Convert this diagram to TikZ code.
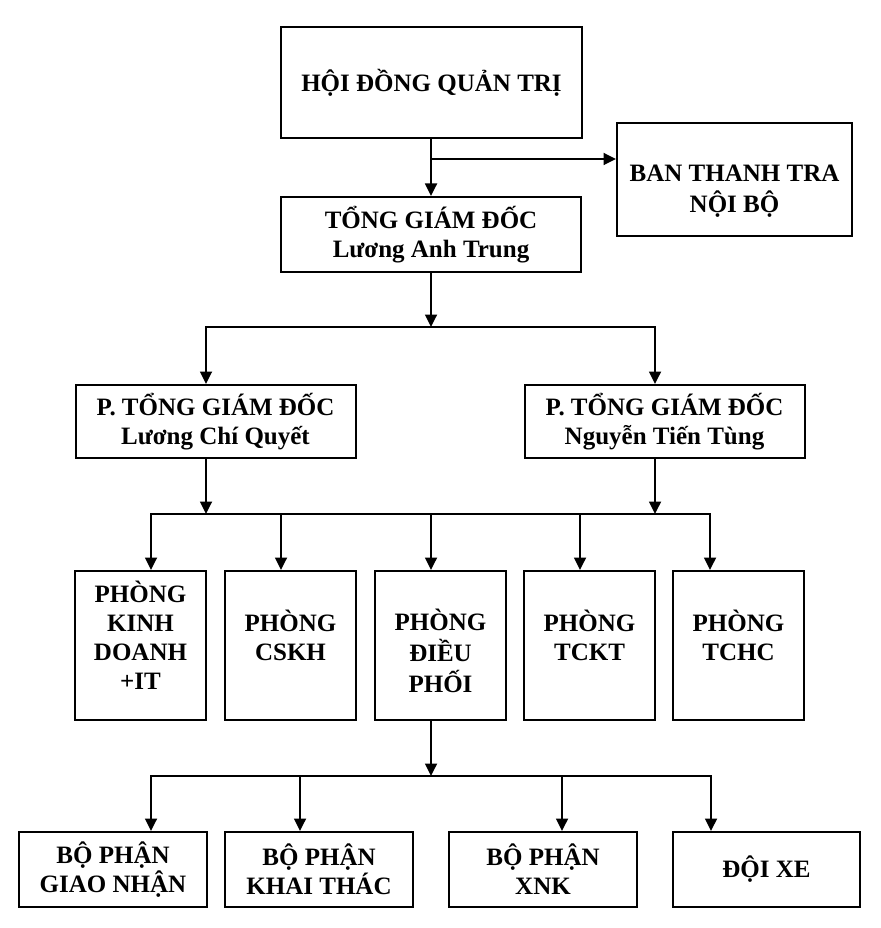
\documentclass[tikz,border=0pt]{standalone}
\usepackage{fontspec}
\setmainfont{Liberation Serif}
\usetikzlibrary{arrows.meta,calc}
\newcommand\mylines[2]{\raisebox{#1}[0pt][0pt]{\begin{tabular}{@{}c@{}}#2\end{tabular}}}
\begin{document}
\begin{tikzpicture}[x=1pt,y=-1pt,
  box/.style={draw, line width=2pt, inner sep=0pt, align=center,
    font=\bfseries\fontsize{25}{29}\selectfont},
  conn/.style={line width=1.8pt, line cap=rect},
  arr/.style={line width=1.8pt, -{Triangle[length=12.5pt,width=12pt]}}]
\useasboundingbox (0,0) rectangle (880,928);
\fill[white] (0,0) rectangle (880,928);

% boxes
\node[box, minimum width=301pt, minimum height=111pt] (hdqt) at (431.5,82.5) {HỘI ĐỒNG QUẢN TRỊ};
\node[box, minimum width=235pt, minimum height=113pt] (ban) at (734.5,179.5) {\mylines{-18pt}{BAN THANH TRA\\NỘI BỘ}};
\node[box, minimum width=300pt, minimum height=75pt] (tgd) at (431,234.5) {TỔNG GIÁM ĐỐC\\Lương Anh Trung};
\node[box, minimum width=280pt, minimum height=73pt] (ptl) at (215.5,421.5) {P. TỔNG GIÁM ĐỐC\\Lương Chí Quyết};
\node[box, minimum width=280pt, minimum height=73pt] (ptr) at (664.5,421.5) {P. TỔNG GIÁM ĐỐC\\Nguyễn Tiến Tùng};

\node[box, minimum width=131pt, minimum height=149pt] (p1) at (140.5,645.5) {\mylines{0pt}{PHÒNG\\KINH\\DOANH\\+IT}};
\node[box, minimum width=131pt, minimum height=149pt] (p2) at (290.5,645.5) {\mylines{0pt}{PHÒNG\\CSKH}};
\node[box, minimum width=131pt, minimum height=149pt] (p3) at (440.5,645.5) {\mylines{-16pt}{PHÒNG\\ĐIỀU\\PHỐI}};
\node[box, minimum width=131pt, minimum height=149pt] (p4) at (589.5,645.5) {\mylines{0pt}{PHÒNG\\TCKT}};
\node[box, minimum width=131pt, minimum height=149pt] (p5) at (738.5,645.5) {\mylines{0pt}{PHÒNG\\TCHC}};

\node[box, minimum width=188pt, minimum height=75pt] (q1) at (113,869.5) {BỘ PHẬN\\GIAO NHẬN};
\node[box, minimum width=188pt, minimum height=75pt] (q2) at (319,869.5) {BỘ PHẬN\\KHAI THÁC};
\node[box, minimum width=188pt, minimum height=75pt] (q3) at (543,869.5) {BỘ PHẬN\\XNK};
\node[box, minimum width=187pt, minimum height=75pt] (q4) at (766.5,869.5) {ĐỘI XE};

% junction coordinates
\coordinate (j1) at (431,159);
\coordinate (k0) at (431,327);
\coordinate (kL) at (206,327);
\coordinate (kR) at (655,327);
\coordinate (m0L) at (206,514);
\coordinate (m0R) at (655,514);
\coordinate (mA) at (151,514);
\coordinate (mB) at (281,514);
\coordinate (mC) at (431,514);
\coordinate (mD) at (580,514);
\coordinate (mE) at (710,514);
\coordinate (n0) at (431,776);
\coordinate (nA) at (151,776);
\coordinate (nB) at (300,776);
\coordinate (nC) at (562,776);
\coordinate (nD) at (711,776);

% connectors
\draw[conn] (hdqt.south -| j1) -- (j1);
\draw[arr] (j1) -- (tgd.north -| j1);
\draw[arr] (j1) -- (ban.west |- j1);

\draw[arr] (tgd.south -| k0) -- (k0);
\draw[conn] (kL) -- (kR);
\draw[arr] (kL) -- (ptl.north -| kL);
\draw[arr] (kR) -- (ptr.north -| kR);

\draw[arr] (ptl.south -| m0L) -- (m0L);
\draw[arr] (ptr.south -| m0R) -- (m0R);
\draw[conn] (mA) -- (mE);
\draw[arr] (mA) -- (p1.north -| mA);
\draw[arr] (mB) -- (p2.north -| mB);
\draw[arr] (mC) -- (p3.north -| mC);
\draw[arr] (mD) -- (p4.north -| mD);
\draw[arr] (mE) -- (p5.north -| mE);

\draw[arr] (p3.south -| n0) -- (n0);
\draw[conn] (nA) -- (nD);
\draw[arr] (nA) -- (q1.north -| nA);
\draw[arr] (nB) -- (q2.north -| nB);
\draw[arr] (nC) -- (q3.north -| nC);
\draw[arr] (nD) -- (q4.north -| nD);
\end{tikzpicture}
\end{document}
